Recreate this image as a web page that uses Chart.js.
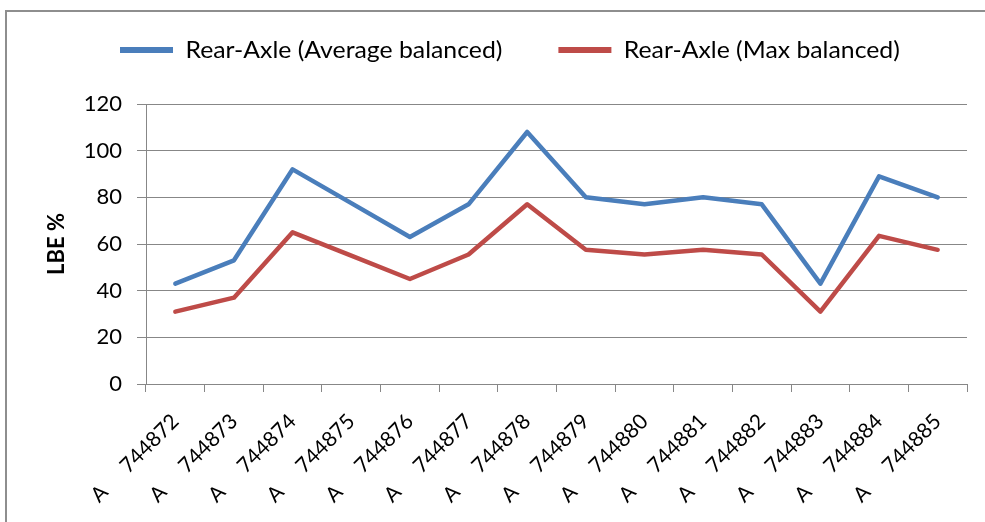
<!DOCTYPE html>
<html>
<head>
<meta charset="utf-8">
<script src="https://cdn.jsdelivr.net/npm/chart.js@4/dist/chart.umd.min.js"></script>
<style>
html,body{margin:0;padding:0;background:#fff;overflow:hidden}
canvas{display:block}
</style>
</head>
<body>
<canvas id="c" width="985" height="522"></canvas>
<script>
// ---- data ----
const categories = ['A     744872','A     744873','A     744874','A     744875','A     744876','A     744877','A     744878',
                    'A     744879','A     744880','A     744881','A     744882','A     744883','A     744884','A     744885'];
const seriesNames = ['Rear-Axle (Average balanced)', 'Rear-Axle (Max balanced)'];
const avgBalanced = [43, 53, 92, 77.5, 63, 77, 108, 80, 77, 80, 77, 43, 89, 80];
const maxBalanced = [31, 37, 65, 55, 45, 55.5, 77, 57.5, 55.5, 57.5, 55.5, 31, 63.5, 57.5];
const yMin = 0, yMax = 120, yStep = 20;
const yTitle = 'LBE %';

// ---- styling ----
const axisColor = '#878787';
const fontFamily = 'Lato, "Liberation Sans", sans-serif';
const tickFont = { family: fontFamily, size: 21 };
const legendFontSize = 24;

// fit the legend text to the reference width (317 px for the first label)
const mctx = document.createElement('canvas').getContext('2d');
mctx.font = legendFontSize + 'px ' + fontFamily;
const legendScaleX = 317 / mctx.measureText(seriesNames[0]).width;
const legendStartX = 120;
const legendBoxH = 104;          // chart area starts below this
const legendBoxW = 53;           // real pixels
const legendGapItems = 56;       // real pixels between first text end and second line
const legendPad = legendGapItems / legendScaleX;
const legendShiftY = 50 - (legendPad + legendFontSize / 2);

const framePlugin = {
  id: 'frame',
  beforeDraw(chart) {
    const ctx = chart.ctx;
    ctx.save();
    ctx.fillStyle = '#ffffff';
    ctx.fillRect(0, 0, chart.width, chart.height);
    ctx.strokeStyle = '#8e8e8e';
    ctx.lineWidth = 2;
    ctx.beginPath();
    ctx.moveTo(6, chart.height);
    ctx.lineTo(6, 11);
    ctx.lineTo(chart.width, 11);
    ctx.stroke();
    ctx.restore();
  }
};

const legendPatch = {
  id: 'legendPatch',
  beforeLayout(chart) {
    const lg = chart.legend;
    if (!lg || lg._patched) return;
    lg._patched = true;
    const fit = lg.fit, draw = lg.draw;
    lg.fit = function () { fit.call(this); this.height = legendBoxH; };
    lg.draw = function () {
      const ctx = this.ctx;
      const x0 = this.left + legendPad;
      ctx.save();
      ctx.translate(legendStartX, legendShiftY);
      ctx.scale(legendScaleX, 1);
      ctx.translate(-x0, 0);
      draw.call(this);
      ctx.restore();
    };
  }
};

new Chart(document.getElementById('c'), {
  type: 'line',
  data: {
    labels: categories,
    datasets: [
      { label: seriesNames[0], data: avgBalanced, borderColor: '#4A7EBB', backgroundColor: '#4A7EBB' },
      { label: seriesNames[1], data: maxBalanced, borderColor: '#BE4B48', backgroundColor: '#BE4B48' }
    ]
  },
  options: {
    responsive: false,
    animation: false,
    devicePixelRatio: 1,
    layout: { padding: { top: 0, left: 36, right: 18, bottom: 0 } },
    elements: {
      line: { tension: 0, borderWidth: 4.5, borderJoinStyle: 'round', borderCapStyle: 'round', fill: false },
      point: { radius: 0, hoverRadius: 0 }
    },
    plugins: {
      tooltip: { enabled: false },
      legend: {
        position: 'top',
        align: 'start',
        labels: {
          boxWidth: legendBoxW / legendScaleX,
          boxHeight: 6,
          padding: legendPad,
          color: '#000',
          font: { family: fontFamily, size: legendFontSize },
          generateLabels(chart) {
            const items = Chart.defaults.plugins.legend.labels.generateLabels(chart);
            items.forEach(i => { i.lineWidth = 0; i.fillStyle = i.strokeStyle; });
            return items;
          }
        }
      }
    },
    scales: {
      x: {
        type: 'category',
        offset: true,
        grid: { offset: true, drawOnChartArea: false, drawTicks: true, tickLength: 8, color: axisColor, lineWidth: 1 },
        border: { display: true, color: axisColor, width: 1 },
        ticks: { autoSkip: false, maxRotation: 45, minRotation: 45, padding: 17, color: '#000', font: tickFont },
        afterFit(scale) { scale.height = 138; }
      },
      y: {
        min: yMin,
        max: yMax,
        ticks: { stepSize: yStep, padding: 15, color: '#000', font: { family: fontFamily, size: 22 } },
        grid: { color: axisColor, lineWidth: 1, tickLength: 9 },
        border: { display: true, color: axisColor, width: 1 },
        title: {
          display: true,
          text: yTitle,
          color: '#000',
          font: { family: fontFamily, size: 22, weight: 'bold' },
          padding: { top: 8, bottom: 0 }
        },
        afterFit(scale) { scale.width = 110; }
      }
    }
  },
  plugins: [framePlugin, legendPatch]
});
</script>
</body>
</html>
